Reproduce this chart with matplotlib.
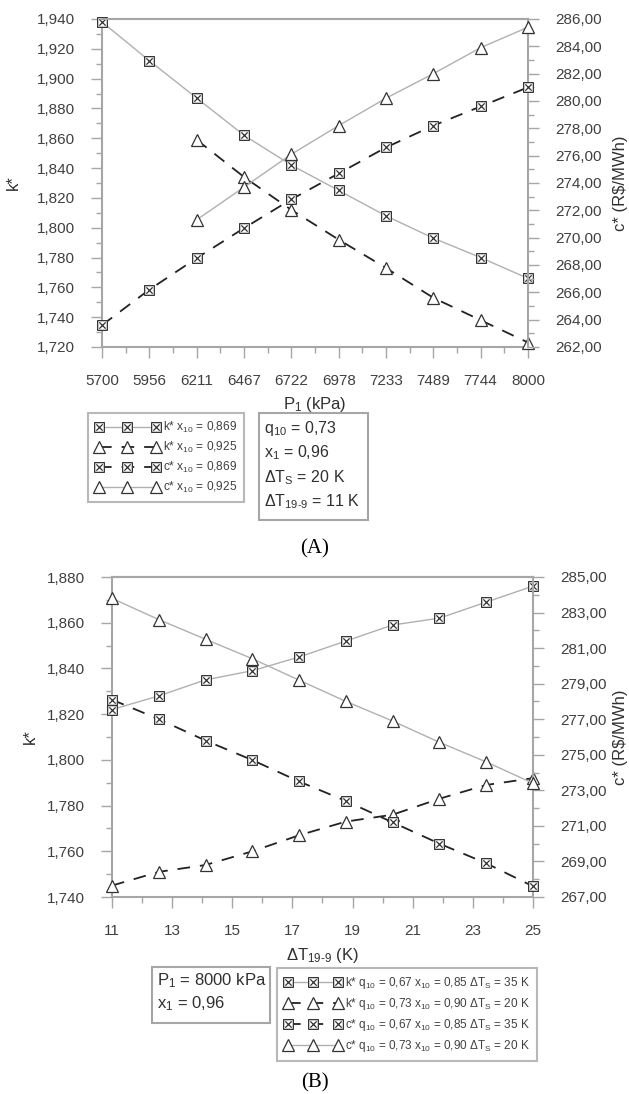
import matplotlib
matplotlib.use("Agg")
import matplotlib.pyplot as plt
from matplotlib.path import Path
from matplotlib.lines import Line2D
from matplotlib.patches import Rectangle
from matplotlib.ticker import FuncFormatter

plt.rcParams['font.family'] = ['Liberation Sans', 'DejaVu Sans']
plt.rcParams['mathtext.fontset'] = 'custom'
plt.rcParams['mathtext.rm'] = 'Liberation Sans'
plt.rcParams['mathtext.it'] = 'Liberation Sans:italic'

##########
########## Donnees
##########

# (A) : P1 en abscisse
p1 = [5700, 5956, 6211, 6467, 6722, 6978, 7233, 7489, 7744, 8000]
p1_lbl = ["5700", "5956", "6211", "6467", "6722", "6978", "7233", "7489", "7744", "8000"]
k_a_869 = [1.938, 1.912, 1.887, 1.862, 1.842, 1.825, 1.808, 1.793, 1.780, 1.766]
c_a_869 = [263.6, 266.2, 268.5, 270.7, 272.8, 274.7, 276.6, 278.2, 279.6, 281.0]
# la serie x10 = 0,925 commence a 6211 kPa
p1_925 = p1[2:]
k_a_925 = [1.859, 1.834, 1.812, 1.792, 1.773, 1.753, 1.738, 1.723]
c_a_925 = [271.3, 273.7, 276.1, 278.2, 280.2, 282.0, 283.9, 285.4]

leg_a = ["k* x$_{10}$ = 0,869", "k* x$_{10}$ = 0,925",
         "c* x$_{10}$ = 0,869", "c* x$_{10}$ = 0,925"]
par_a = ["q$_{10}$ = 0,73", "x$_1$ = 0,96", "ΔT$_\\mathrm{S}$ = 20 K",
         "ΔT$_{\\text{19-9}}$ = 11 K"]

# (B) : dT19-9 en abscisse
dt = [11, 12.56, 14.11, 15.67, 17.22, 18.78, 20.33, 21.89, 23.44, 25]
k_b_35 = [1.822, 1.828, 1.835, 1.839, 1.845, 1.852, 1.859, 1.862, 1.869, 1.876]
k_b_20 = [1.745, 1.751, 1.754, 1.760, 1.767, 1.773, 1.776, 1.783, 1.789, 1.792]
c_b_35 = [278.1, 277.0, 275.8, 274.7, 273.5, 272.4, 271.2, 270.0, 268.9, 267.6]
c_b_20 = [283.8, 282.6, 281.5, 280.4, 279.2, 278.0, 276.9, 275.7, 274.6, 273.4]

leg_b = ["k* q$_{10}$ = 0,67 x$_{10}$ = 0,85 ΔT$_\\mathrm{S}$ = 35 K",
         "k* q$_{10}$ = 0,73 x$_{10}$ = 0,90 ΔT$_\\mathrm{S}$ = 20 K",
         "c* q$_{10}$ = 0,67 x$_{10}$ = 0,85 ΔT$_\\mathrm{S}$ = 35 K",
         "c* q$_{10}$ = 0,73 x$_{10}$ = 0,90 ΔT$_\\mathrm{S}$ = 20 K"]
par_b = ["P$_1$ = 8000 kPa", "x$_1$ = 0,96"]

##########
########## Styles
##########

W, H = 629, 1094
GRIS = '#a6a6a6'
TXT = '#404040'

boxx = Path([(-1, -1), (1, -1), (1, 1), (-1, 1), (-1, -1),
             (-0.65, -0.65), (0.65, 0.65), (-0.65, 0.65), (0.65, -0.65)],
            [Path.MOVETO, Path.LINETO, Path.LINETO, Path.LINETO, Path.CLOSEPOLY,
             Path.MOVETO, Path.LINETO, Path.MOVETO, Path.LINETO])

plein = dict(color='#b0b0b0', lw=1.0, ls='-')
tirets = dict(color='#222222', lw=1.3, ls=(0, (7, 5.5)))
m_box = dict(marker=boxx, ms=7, mfc='white', mec='#333333', mew=0.9)
m_tri = dict(marker='^', ms=8, mfc='white', mec='#333333', mew=0.9)

styles = [(plein, m_box), (tirets, m_tri), (tirets, m_box), (plein, m_tri)]


def fig_rect(x0, y0, x1, y1):
    # pixels -> fraction de figure
    return [x0 / W, 1 - y1 / H, (x1 - x0) / W, (y1 - y0) / H]


def virgule(n):
    return FuncFormatter(lambda v, pos: "{:.{}f}".format(v, n).replace('.', ','))


def mise_en_forme(ax, tw):
    for a in (ax, tw):
        for s in a.spines.values():
            s.set_color(GRIS)
            s.set_linewidth(1.5)
        a.tick_params(which='major', direction='out', length=8, width=1, color=GRIS,
                      labelsize=11, labelcolor=TXT, pad=11.5)
        a.tick_params(which='minor', direction='out', length=4, width=1, color=GRIS)
    tw.spines['left'].set_visible(False)
    tw.spines['bottom'].set_visible(False)
    ax.spines['right'].set_visible(False)


def tracer(ax, tw, series):
    for (ls, mk), (xx, yy, a) in zip(styles, series):
        cible = ax if a == 'k' else tw
        cible.plot(xx, yy, **ls, **mk, clip_on=False, zorder=3)


def legende(fig, x0, y0, labels, fs, hl, sp):
    hs = [Line2D([], [], **ls, **mk) for ls, mk in styles]
    lg = fig.legend(hs, labels, loc='upper left', bbox_to_anchor=(x0 / W, 1 - y0 / H),
                    numpoints=3, fontsize=fs, handlelength=hl, handletextpad=0.25,
                    labelspacing=sp, borderpad=0.6, borderaxespad=0, fancybox=False,
                    frameon=True)
    lg.get_frame().set_edgecolor(GRIS)
    lg.get_frame().set_linewidth(1.5)
    for t in lg.get_texts():
        t.set_color(TXT)


def cadre(fig, x0, y0, x1, y1, lignes, ys, fs):
    fig.add_artist(Rectangle((x0 / W, 1 - y1 / H), (x1 - x0) / W, (y1 - y0) / H,
                             transform=fig.transFigure, fill=False, ec=GRIS, lw=1.5))
    for t, y in zip(lignes, ys):
        fig.text((x0 + 5) / W, 1 - y / H, t, fontsize=fs, color='#303030', va='center')


##########
########## Figure
##########

fig = plt.figure(figsize=(W / 100, H / 100), dpi=100)

# ---- (A)
ax = fig.add_axes(fig_rect(102, 19, 528, 347))
tw = ax.twinx()
mise_en_forme(ax, tw)
tracer(ax, tw, [(p1, k_a_869, 'k'), (p1_925, k_a_925, 'k'),
                (p1, c_a_869, 'c'), (p1_925, c_a_925, 'c')])
ax.set_xlim(p1[0], p1[-1])
ax.set_ylim(1.720, 1.940)
tw.set_ylim(262, 286)
ax.set_xticks(p1)
ax.set_xticklabels(p1_lbl)
ax.set_xticks([(a + b) / 2 for a, b in zip(p1[:-1], p1[1:])], minor=True)
ax.set_yticks([1.720 + 0.02 * i for i in range(12)])
ax.set_yticks([1.730 + 0.02 * i for i in range(11)], minor=True)
tw.set_yticks(range(262, 287, 2))
tw.set_yticks(range(263, 286, 2), minor=True)
ax.yaxis.set_major_formatter(virgule(3))
tw.yaxis.set_major_formatter(virgule(2))
ax.set_xlabel("P$_1$ (kPa)", fontsize=12, color='#303030')
ax.xaxis.set_label_coords(0.5, -0.146)
ax.set_ylabel("k*", fontsize=12, color='#303030')
ax.yaxis.set_label_coords(-0.19, 0.5)
tw.set_ylabel("c* (R\\$/MWh)", fontsize=12, color='#303030')
tw.yaxis.set_label_coords(1.2, 0.5)

legende(fig, 88, 413, leg_a, 8.6, 5.4, 0.4)
cadre(fig, 259, 413, 368, 520, par_a, [428, 453, 478, 502], 11.5)
fig.text(315 / W, 1 - 549 / H, "(A)", fontsize=15, family='Liberation Serif',
         ha='center', va='center')

# ---- (B)
ax = fig.add_axes(fig_rect(112, 577, 533, 897))
tw = ax.twinx()
mise_en_forme(ax, tw)
tracer(ax, tw, [(dt, k_b_35, 'k'), (dt, k_b_20, 'k'),
                (dt, c_b_35, 'c'), (dt, c_b_20, 'c')])
ax.set_xlim(11, 25)
ax.set_ylim(1.740, 1.880)
tw.set_ylim(267, 285)
ax.set_xticks(range(11, 26, 2))
ax.set_xticks(range(12, 25, 2), minor=True)
ax.set_yticks([1.740 + 0.02 * i for i in range(8)])
ax.set_yticks([1.750 + 0.02 * i for i in range(7)], minor=True)
tw.set_yticks(range(267, 286, 2))
tw.set_yticks(range(268, 285, 2), minor=True)
ax.yaxis.set_major_formatter(virgule(3))
tw.yaxis.set_major_formatter(virgule(2))
ax.set_xlabel("ΔT$_{\\text{19-9}}$ (K)", fontsize=12, color='#303030')
ax.xaxis.set_label_coords(0.5, -0.153)
ax.set_ylabel("k*", fontsize=12, color='#303030')
ax.yaxis.set_label_coords(-0.176, 0.5)
tw.set_ylabel("c* (R\\$/MWh)", fontsize=12, color='#303030')
tw.yaxis.set_label_coords(1.19, 0.5)

cadre(fig, 152, 967, 270, 1023, par_b, [981, 1004], 12)
legende(fig, 277, 968, leg_b, 8.5, 4.9, 0.42)
fig.text(315 / W, 1 - 1083 / H, "(B)", fontsize=15, family='Liberation Serif',
         ha='center', va='center')

fig.savefig("out.png", dpi=100)
